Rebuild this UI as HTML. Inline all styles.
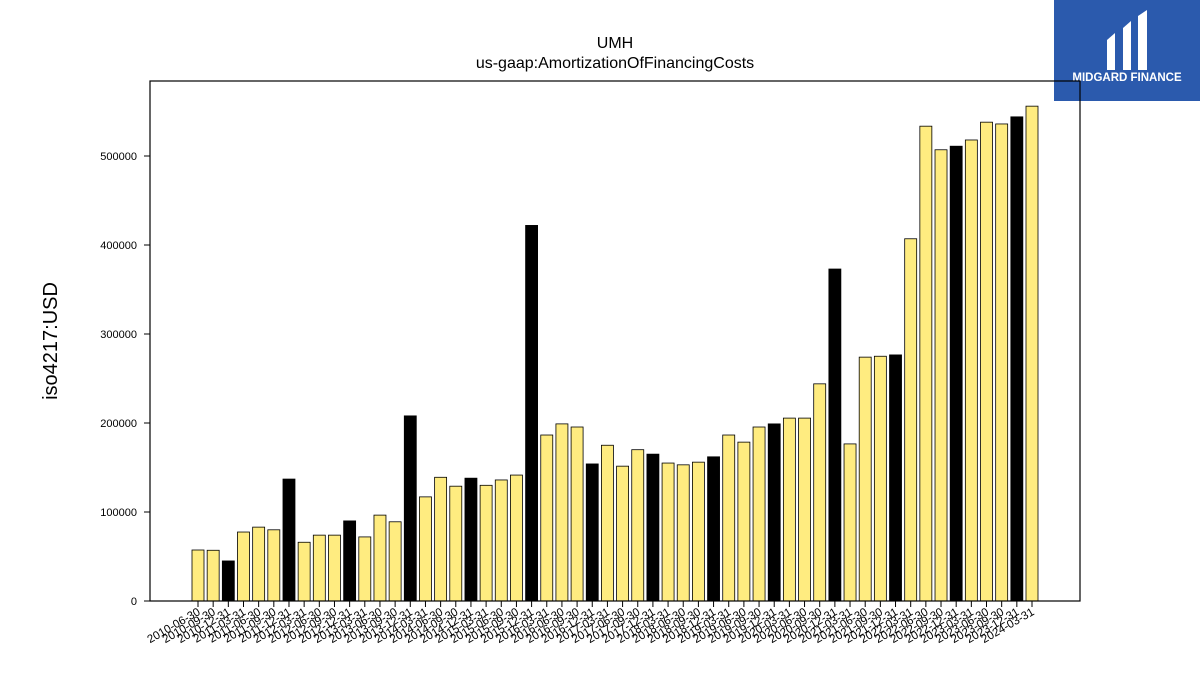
<!DOCTYPE html>
<html><head><meta charset="utf-8"><style>
body{margin:0;background:#fff;width:1200px;height:675px;overflow:hidden;font-family:"Liberation Sans","DejaVu Sans",sans-serif}
</style></head><body>
<svg id="c" width="1200" height="675" xmlns="http://www.w3.org/2000/svg">
<rect x="1054" y="0" width="146" height="101" fill="#2b5aad"/>
<g fill="#fff">
<path d="M1107 40 L1115 33 L1115 70 L1107 70 Z"/><path d="M1123 28 L1131 21 L1131 70 L1123 70 Z"/><path d="M1138 16 L1147 10 L1147 70 L1138 70 Z"/>
</g>
<text x="1127" y="81" text-anchor="middle" font-size="11.5" font-weight="bold" fill="#fff">MIDGARD FINANCE</text>
<text x="615" y="48" text-anchor="middle" font-size="16">UMH</text>
<text x="615" y="68" text-anchor="middle" font-size="16">us-gaap:AmortizationOfFinancingCosts</text>
<text transform="translate(57,341) rotate(-90)" text-anchor="middle" font-size="20">iso4217:USD</text>
<g id="bars"></g><g id="yt"></g><g id="xt"></g>
<rect x="150" y="81" width="930" height="520" fill="none" stroke="#000" stroke-width="1.2"/>
</svg>
<script>
const categories=[];
(function(){const ends=["03-31","06-30","09-30","12-31"];for(let y=2010;y<=2024;y++)for(const e of ends){const d=y+"-"+e;if(d>="2010-06-30"&&d<="2024-03-31")categories.push(d);}})();
const values=[57300,57000,45000,77500,83000,80000,137000,66000,74000,74000,90000,72000,96500,89000,208000,117000,139000,129000,138000,130000,136000,141500,422000,186500,199000,195500,154000,175000,151500,170000,165000,155000,153000,156000,162000,186500,178500,195500,199000,205500,205500,244000,373000,176500,274000,275000,276500,407000,533500,507000,511000,518000,538000,536000,544000,556000];
const yTicks=[0,100000,200000,300000,400000,500000];
const ns="http://www.w3.org/2000/svg";
const y=v=>601-v*445/500000;
const x=i=>198+i*(1032-198)/(categories.length-1);
const bars=document.getElementById('bars'),yt=document.getElementById('yt'),xt=document.getElementById('xt');
function mk(t,a){const e=document.createElementNS(ns,t);for(const k in a)e.setAttribute(k,a[k]);return e;}
values.forEach((v,i)=>{
 const black=categories[i].endsWith("12-31");
 const r=mk('rect',{x:x(i)-6,y:y(v),width:12,height:601-y(v),fill:black?'#000':'#ffec80',stroke:'#000','stroke-width':0.8});
 
 
 bars.appendChild(r);
 const tk=mk('line',{x1:x(i),x2:x(i),y1:601,y2:607,stroke:'#000'});
 
 
 xt.appendChild(tk);
 const t=mk('text',{x:0,y:0,'font-size':11.5,'text-anchor':'end',transform:`translate(${x(i)+3},${614}) rotate(-30)`});
 
 
 t.textContent=categories[i];xt.appendChild(t);
});
yTicks.forEach(v=>{
 const tk=mk('line',{x1:144,x2:150,y1:y(v),y2:y(v),stroke:'#000'});
 
 
 yt.appendChild(tk);
 const t=mk('text',{x:137,y:y(v)+4,'font-size':11,'text-anchor':'end'});
 
 
 t.textContent=v;yt.appendChild(t);
});
</script>
</body></html>
